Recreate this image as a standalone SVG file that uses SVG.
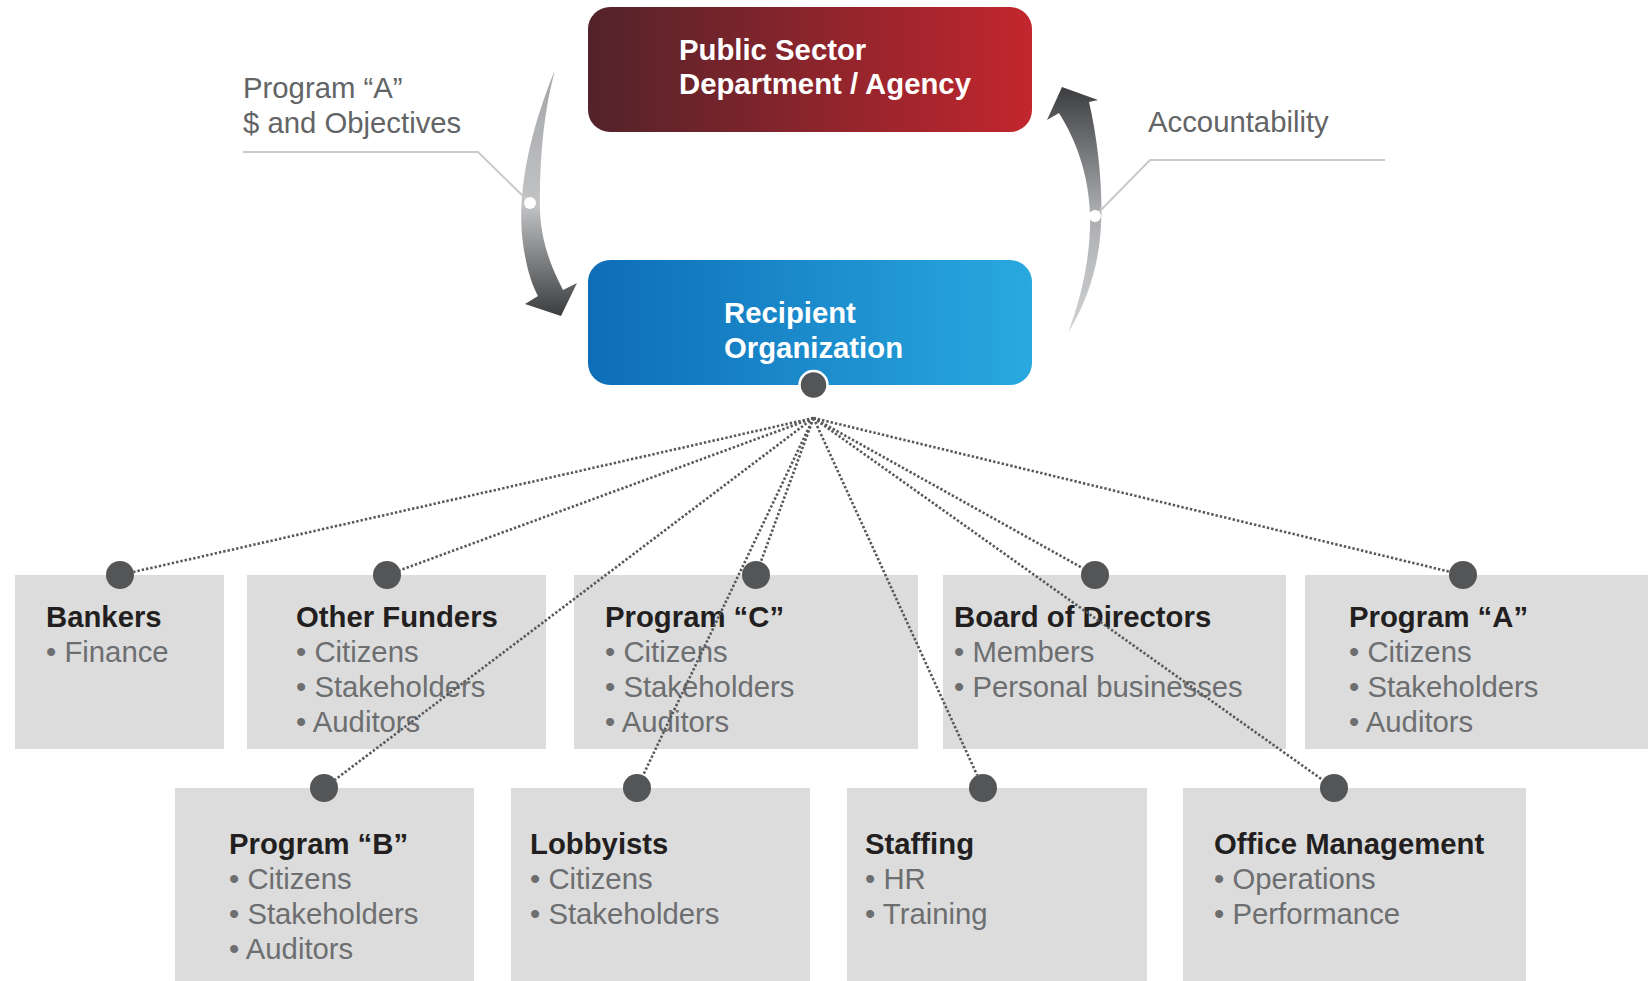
<svg xmlns="http://www.w3.org/2000/svg" width="1648" height="981" viewBox="0 0 1648 981">
<defs>
<linearGradient id="gRed" x1="0" y1="0" x2="1" y2="0"><stop offset="0" stop-color="#52232a"/><stop offset="1" stop-color="#c3262e"/></linearGradient>
<linearGradient id="gBlue" x1="0" y1="0" x2="1" y2="0"><stop offset="0" stop-color="#0e6db7"/><stop offset="1" stop-color="#29a9e0"/></linearGradient>
<linearGradient id="gArrL" x1="0" y1="0" x2="0" y2="1"><stop offset="0" stop-color="#a3a5a8"/><stop offset="0.55" stop-color="#c2c3c5"/><stop offset="1" stop-color="#3b3c3e"/></linearGradient>
<linearGradient id="gArrR" x1="0" y1="0" x2="0" y2="1"><stop offset="0" stop-color="#3c3d3f"/><stop offset="0.5" stop-color="#a9abae"/><stop offset="1" stop-color="#d2d3d5"/></linearGradient>
<style>
.box{fill:#dcdcdc}
.t{font-family:"Liberation Sans",Arial,sans-serif;font-size:29.3px;font-weight:bold;fill:#231f20}
.i{font-family:"Liberation Sans",Arial,sans-serif;font-size:29.3px;fill:#6d6e70}
.w{font-family:"Liberation Sans",Arial,sans-serif;font-size:29.3px;font-weight:bold;fill:#ffffff}
.lbl{font-family:"Liberation Sans",Arial,sans-serif;font-size:29.3px;fill:#636466}
.dot{fill:#545557}
.lead{fill:none;stroke:#c9c9c9;stroke-width:2}
.con{stroke:#58595b;stroke-width:2.6;stroke-dasharray:2.4 2;fill:none}
</style>
</defs>
<rect width="1648" height="981" fill="#ffffff"/>

<g id="arrows">
<path d="M555,70 C530,130 518,190 522,235 C525,265 532,285 538,296 L525,304 L561,316 L577,283 L563,290 C550,265 541,240 540,210 C539,160 544,110 555,70 Z" fill="url(#gArrL)"/>
<path d="M1062,87 L1098,100 L1089,102 C1098,140 1103,190 1101,225 C1099,265 1088,300 1068,333 C1082,295 1091,255 1090,215 C1089,175 1076,140 1059,113 L1047,120 Z" fill="url(#gArrR)"/>
</g>

<g id="label-program-a">
<text class="lbl" x="243" y="98">Program “A”</text>
<text class="lbl" x="243" y="133">$ and Objectives</text>
<polyline class="lead" points="243,152 478,152 528,201"/>
<circle cx="530" cy="203" r="6" fill="#ffffff"/>
</g>

<g id="label-accountability">
<text class="lbl" x="1148" y="132">Accountability</text>
<polyline class="lead" points="1385,160 1150,160 1097,214"/>
<circle cx="1095" cy="216" r="6" fill="#ffffff"/>
</g>

<g id="public-sector">
<rect x="588" y="7" width="444" height="125" rx="22" fill="url(#gRed)"/>
<text class="w" x="679" y="60">Public Sector</text>
<text class="w" x="679" y="94">Department / Agency</text>
</g>

<g id="recipient">
<rect x="588" y="260" width="444" height="125" rx="22" fill="url(#gBlue)"/>
<text class="w" x="724" y="323">Recipient</text>
<text class="w" x="724" y="358">Organization</text>
<circle cx="813.5" cy="385" r="14" fill="#545557" stroke="#ffffff" stroke-width="2.5"/>
</g>

<g id="bankers">
<rect class="box" x="15" y="575" width="209" height="174"/>
<text class="t" x="46" y="627">Bankers</text>
<text class="i" x="46" y="662">• Finance</text>
<circle class="dot" cx="120" cy="575" r="14"/>
</g>

<g id="other-funders">
<rect class="box" x="247" y="575" width="299" height="174"/>
<text class="t" x="296" y="627">Other Funders</text>
<text class="i" x="296" y="662">• Citizens</text>
<text class="i" x="296" y="697">• Stakeholders</text>
<text class="i" x="296" y="732">• Auditors</text>
<circle class="dot" cx="387" cy="575" r="14"/>
</g>

<g id="program-c">
<rect class="box" x="574" y="575" width="344" height="174"/>
<text class="t" x="605" y="627">Program “C”</text>
<text class="i" x="605" y="662">• Citizens</text>
<text class="i" x="605" y="697">• Stakeholders</text>
<text class="i" x="605" y="732">• Auditors</text>
<circle class="dot" cx="756" cy="575" r="14"/>
</g>

<g id="board">
<rect class="box" x="943" y="575" width="343" height="174"/>
<text class="t" x="954" y="627">Board of Directors</text>
<text class="i" x="954" y="662">• Members</text>
<text class="i" x="954" y="697">• Personal businesses</text>
<circle class="dot" cx="1095" cy="575" r="14"/>
</g>

<g id="program-a">
<rect class="box" x="1305" y="575" width="343" height="174"/>
<text class="t" x="1349" y="627">Program “A”</text>
<text class="i" x="1349" y="662">• Citizens</text>
<text class="i" x="1349" y="697">• Stakeholders</text>
<text class="i" x="1349" y="732">• Auditors</text>
<circle class="dot" cx="1463" cy="575" r="14"/>
</g>

<g id="program-b">
<rect class="box" x="175" y="788" width="299" height="193"/>
<text class="t" x="229" y="854">Program “B”</text>
<text class="i" x="229" y="889">• Citizens</text>
<text class="i" x="229" y="924">• Stakeholders</text>
<text class="i" x="229" y="959">• Auditors</text>
<circle class="dot" cx="324" cy="788" r="14"/>
</g>

<g id="lobbyists">
<rect class="box" x="511" y="788" width="299" height="193"/>
<text class="t" x="530" y="854">Lobbyists</text>
<text class="i" x="530" y="889">• Citizens</text>
<text class="i" x="530" y="924">• Stakeholders</text>
<circle class="dot" cx="637" cy="788" r="14"/>
</g>

<g id="staffing">
<rect class="box" x="847" y="788" width="300" height="193"/>
<text class="t" x="865" y="854">Staffing</text>
<text class="i" x="865" y="889">• HR</text>
<text class="i" x="865" y="924">• Training</text>
<circle class="dot" cx="983" cy="788" r="14"/>
</g>

<g id="office-management">
<rect class="box" x="1183" y="788" width="343" height="193"/>
<text class="t" x="1214" y="854">Office Management</text>
<text class="i" x="1214" y="889">• Operations</text>
<text class="i" x="1214" y="924">• Performance</text>
<circle class="dot" cx="1334" cy="788" r="14"/>
</g>

<g id="connectors">
<line class="con" x1="813.5" y1="418" x2="133.7" y2="571.9"/>
<line class="con" x1="813.5" y1="418" x2="400.1" y2="570.2"/>
<line class="con" x1="813.5" y1="418" x2="335.2" y2="779.6"/>
<line class="con" x1="813.5" y1="418" x2="643.0" y2="775.4"/>
<line class="con" x1="813.5" y1="418" x2="760.8" y2="561.9"/>
<line class="con" x1="813.5" y1="418" x2="977.2" y2="775.3"/>
<line class="con" x1="813.5" y1="418" x2="1082.8" y2="568.2"/>
<line class="con" x1="813.5" y1="418" x2="1322.6" y2="779.9"/>
<line class="con" x1="813.5" y1="418" x2="1449.4" y2="571.7"/>
</g>
</svg>
